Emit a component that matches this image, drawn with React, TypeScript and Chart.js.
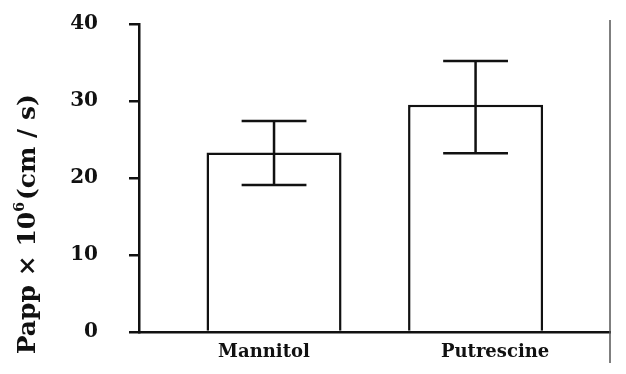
import React, { useEffect, useRef } from "react";
import { Chart, registerables } from "chart.js";

Chart.register(...registerables);

const categories = ["Mannitol", "Putrescine"];
const meanValues = [23.3, 29.5];
const errorHigh = [27.4, 35.2];
const errorLow = [19.1, 23.2];
const yTicks = [0, 10, 20, 30, 40];

const FONT = "'DejaVu Serif', 'Liberation Serif', serif";

const errorBarPlugin = {
  id: "errorBars",
  afterDatasetsDraw(chart: any) {
    const meta = chart.getDatasetMeta(0);
    const yScale = chart.scales.y;
    const ctx = chart.ctx;
    ctx.save();
    ctx.strokeStyle = "#111";
    ctx.lineWidth = 2.5;
    meta.data.forEach((bar: any, i: number) => {
      const x = bar.x;
      const yH = yScale.getPixelForValue(errorHigh[i]);
      const yL = yScale.getPixelForValue(errorLow[i]);
      const cap = bar.width * 0.24;
      ctx.beginPath();
      ctx.moveTo(x, yH);
      ctx.lineTo(x, yL);
      ctx.moveTo(x - cap, yH);
      ctx.lineTo(x + cap, yH);
      ctx.moveTo(x - cap, yL);
      ctx.lineTo(x + cap, yL);
      ctx.stroke();
    });
    ctx.restore();
  },
};

const framePlugin = {
  id: "frameExtras",
  afterDraw(chart: any) {
    const { ctx, chartArea } = chart;
    ctx.save();
    // right thin grey line
    ctx.strokeStyle = "#555";
    ctx.lineWidth = 1.5;
    ctx.beginPath();
    ctx.moveTo(chartArea.right, chartArea.top - 4);
    ctx.lineTo(chartArea.right, chartArea.bottom + 31);
    ctx.stroke();
    // y axis title with superscript
    const cx = 28;
    const cy = chartArea.top + (chartArea.bottom - chartArea.top) * 0.65;
    ctx.translate(cx, cy);
    ctx.rotate(-Math.PI / 2);
    ctx.fillStyle = "#111";
    ctx.textBaseline = "middle";
    ctx.textAlign = "left";
    const mainFont = `bold 25px ${FONT}`;
    const supFont = `bold 14px ${FONT}`;
    const p1 = "Papp \u00d7 10";
    const p2 = "6";
    const p3 = "(cm / s)";
    ctx.font = mainFont;
    const w1 = ctx.measureText(p1).width;
    const w3 = ctx.measureText(p3).width;
    ctx.font = supFont;
    const w2 = ctx.measureText(p2).width;
    const total = w1 + w2 + w3 + 2;
    let x = -total / 2;
    ctx.font = mainFont;
    ctx.fillText(p1, x, 0);
    x += w1;
    ctx.font = supFont;
    ctx.fillText(p2, x, -8);
    x += w2 + 2;
    ctx.font = mainFont;
    ctx.fillText(p3, x, 0);
    ctx.restore();
  },
};

const labelShift = [-0.05, 0.097];

export default function App() {
  const canvasRef = useRef<HTMLCanvasElement | null>(null);

  useEffect(() => {
    if (!canvasRef.current) return;
    const chart = new Chart(canvasRef.current, {
      type: "bar",
      data: {
        datasets: [
          {
            data: categories.map((c, i) => ({ x: i + 1, y: meanValues[i] })),
            backgroundColor: "#ffffff",
            borderColor: "#111",
            borderWidth: 2.5,
            barPercentage: 0.67,
            categoryPercentage: 1,
          },
        ],
      },
      options: {
        animation: false,
        responsive: true,
        maintainAspectRatio: false,
        layout: { padding: { left: 0, right: 16, top: 24, bottom: 0 } },
        plugins: {
          legend: { display: false },
          tooltip: { enabled: false },
        },
        scales: {
          x: {
            type: "linear",
            min: 0.33,
            max: 2.667,
            offset: false,
            afterBuildTicks: (scale: any) => {
              scale.ticks = categories.map((c, i) => ({ value: i + 1 + labelShift[i] }));
            },
            afterFit: (scale: any) => {
              scale.height = 42;
              scale.paddingLeft = 0;
              scale.paddingRight = 0;
            },
            ticks: {
              callback: (v: any, i: number) => categories[i],
              color: "#111",
              font: { family: FONT, size: 18, weight: "bold" },
              padding: 2,
              maxRotation: 0,
              autoSkip: false,
            },
            grid: { display: false, offset: false },
            border: { display: true, color: "#111", width: 2.5 },
          },
          y: {
            type: "linear",
            min: 0,
            max: 40,
            afterBuildTicks: (scale: any) => {
              scale.ticks = yTicks.map((v) => ({ value: v }));
            },
            afterFit: (scale: any) => {
              scale.width = 139;
              scale.paddingTop = 0;
              scale.paddingBottom = 0;
            },
            ticks: {
              color: "#111",
              font: { family: FONT, size: 20, weight: "bold" },
              padding: 31,
            },
            grid: {
              drawOnChartArea: false,
              color: "#111",
              lineWidth: 2.5,
              tickLength: 10,
            },
            border: { display: true, color: "#111", width: 2.5 },
          },
        },
      },
      plugins: [errorBarPlugin, framePlugin],
    });
    return () => chart.destroy();
  }, []);

  return (
    <div
      style={{
        position: "fixed",
        left: 0,
        top: 0,
        width: 626,
        height: 374,
        background: "#fff",
      }}
    >
      <canvas ref={canvasRef} />
    </div>
  );
}
